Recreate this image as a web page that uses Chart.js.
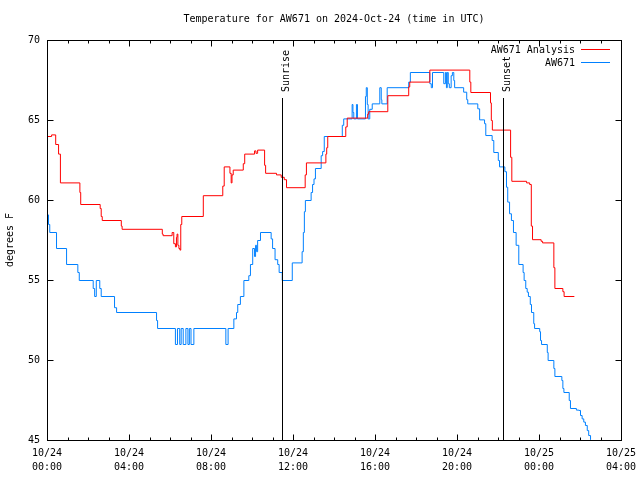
<!DOCTYPE html>
<html><head><meta charset="utf-8">
<script src="https://cdn.jsdelivr.net/npm/chart.js@4.4.1/dist/chart.umd.min.js"></script>
<style>html,body{margin:0;padding:0;background:#fff;}canvas{display:block;}</style>
</head><body>
<canvas id="c" width="640" height="480"></canvas>
<script>
const titleText = 'Temperature for AW671 on 2024-Oct-24 (time in UTC)';
const yTitleText = 'degrees F';
const seriesNames = ['AW671 Analysis', 'AW671'];
const seriesColors = ['#ff0000', '#0080ff'];
const xTickDates = ['10/24','10/24','10/24','10/24','10/24','10/24','10/25','10/25'];
const xTickTimes = ['00:00','04:00','08:00','12:00','16:00','20:00','00:00','04:00'];
const sunLabels = ['Sunrise', 'Sunset'];
const sunHours = [11.46, 22.22];

// hours since 10/24 00:00 UTC, value holds until next point
const analysisHours = [0,0.2,0.4,0.54,0.63,1.58,1.62,2.57,2.62,2.67,3.6,3.64,5.6,5.64,6.08,6.16,6.24,6.29,6.32,6.36,6.41,6.46,6.5,6.55,7.6,8.55,8.62,8.9,8.96,9.0,9.06,9.55,9.62,10.1,10.17,10.25,10.59,10.64,11.17,11.4,11.55,11.66,12.57,12.63,13.58,13.62,13.67,14.55,14.62,15.62,15.67,16.6,17.62,17.67,18.65,20.6,20.65,21.61,21.65,21.7,22.59,22.65,23.37,23.52,23.6,23.66,24.08,24.15,24.7,24.75,25.14,25.2,25.7];
const analysisTemps = [64.0,64.1,63.5,62.9,61.1,60.5,59.75,59.5,59.0,58.75,58.4,58.2,57.9,57.8,58.0,57.3,57.1,57.7,57.9,57.2,57.0,56.9,58.5,59.0,60.3,60.9,62.1,61.7,61.1,61.6,61.9,62.3,62.9,63.1,62.95,63.15,62.2,61.7,61.6,61.45,61.3,60.8,61.6,62.35,62.9,63.3,64.0,64.6,65.15,65.4,65.55,66.55,67.1,67.4,68.15,67.4,66.75,66.1,65.0,64.4,62.7,61.2,61.1,61.0,58.4,57.55,57.45,57.35,55.8,54.5,54.3,54.0,54.0];

const obsHours = [0,0.05,0.11,0.44,0.93,1.48,1.55,2.23,2.3,2.38,2.55,2.62,3.27,3.37,5.32,5.37,6.24,6.34,6.45,6.52,6.62,6.75,6.85,6.92,7.0,7.14,8.7,8.81,9.09,9.22,9.28,9.41,9.58,9.82,9.9,10.01,10.1,10.15,10.2,10.25,10.39,10.91,10.98,11.1,11.23,11.3,11.45,11.94,12.42,12.48,12.53,12.58,12.86,12.93,13.0,13.07,13.35,13.42,13.5,14.38,14.45,14.86,14.9,14.94,15.07,15.12,15.51,15.55,15.6,15.64,15.72,15.84,16.21,16.28,16.31,16.57,17.62,17.7,18.65,18.72,18.78,19.33,19.41,19.46,19.5,19.55,19.6,19.69,19.75,19.82,19.86,20.3,20.45,20.5,20.99,21.08,21.32,21.38,21.69,21.77,21.99,22.05,22.31,22.39,22.45,22.54,22.63,22.73,22.86,22.99,23.2,23.25,23.33,23.4,23.46,23.55,23.61,23.72,23.76,24.01,24.05,24.1,24.38,24.42,24.7,24.75,25.09,25.14,25.19,25.45,25.51,25.8,25.92,26.0,26.08,26.16,26.24,26.33,26.4,26.49];
const obsTemps = [59.1,58.5,58.0,57.0,56.0,55.5,55.0,54.5,54.0,55.0,54.5,54.0,53.3,53.0,52.5,52.0,51.0,52.0,51.0,52.0,51.0,52.0,51.0,52.0,51.0,52.0,51.0,52.0,52.6,53.0,53.5,54.0,55.0,55.3,56.0,57.0,56.5,57.2,56.8,57.5,58.0,57.6,57.0,56.3,56.0,55.5,55.0,56.1,56.8,58.0,59.3,60.0,60.5,61.0,61.35,62.0,62.8,63.06,64.0,64.7,65.1,66.0,65.5,65.1,66.0,65.1,66.5,67.05,66.0,65.1,65.7,66.04,67.05,66.3,66.04,67.05,67.4,68.0,67.3,67.05,68.0,67.3,68.0,67.05,68.0,67.3,67.05,67.8,68.0,67.5,67.05,66.77,66.3,66.04,65.73,65.04,64.8,64.06,63.75,63.0,62.5,62.1,61.8,60.83,59.9,59.17,58.75,58.0,57.2,56.0,55.5,55.0,54.5,54.27,54.0,53.5,53.0,52.3,52.0,51.8,51.25,51.0,50.5,50.0,49.5,49.0,48.75,48.25,48.0,47.5,47.0,46.9,46.88,46.56,46.35,46.15,45.94,45.62,45.31,45.04];

const toPoints = (hs, vs) => hs.map((h, i) => ({x: h, y: vs[i]}));

Chart.defaults.font.family = "'DejaVu Sans Mono', monospace";
Chart.defaults.font.size = 10;
Chart.defaults.color = '#000';

const FONT = "10px 'DejaVu Sans Mono', monospace";

const decor = {
  id: 'decor',
  beforeDatasetsDraw(chart) { chart.ctx.save(); chart.ctx.translate(0.5, 0.5); },
  afterDatasetsDraw(chart) {
    chart.ctx.restore();
    const {ctx, chartArea: a, scales: {x, y}} = chart;
    ctx.save();
    ctx.strokeStyle = '#000';
    ctx.lineWidth = 1;
    const L = Math.round(a.left) + 0.5, R = Math.round(a.right) + 0.5;
    const T = Math.round(a.top) + 0.5, B = Math.round(a.bottom) + 0.5;
    const seg = (x1, y1, x2, y2) => { ctx.beginPath(); ctx.moveTo(x1, y1); ctx.lineTo(x2, y2); ctx.stroke(); };
    // ticks
    for (let h = x.min; h <= x.max; h += 1) {
      const px = Math.round(x.getPixelForValue(h)) + 0.5;
      const len = (h % 4 === 0) ? 6 : 3;
      seg(px, B, px, B - len);
      seg(px, T, px, T + len);
    }
    for (let v = y.min; v <= y.max; v += 5) {
      const py = Math.round(y.getPixelForValue(v)) + 0.5;
      seg(L, py, L + 6, py);
      seg(R, py, R - 6, py);
    }
    // sunrise / sunset
    ctx.font = FONT;
    ctx.fillStyle = '#000';
    sunHours.forEach((h, i) => {
      const px = Math.round(x.getPixelForValue(h)) + 0.5;
      seg(px, 98, px, B);
      ctx.save();
      ctx.translate(px + 6, 92);
      ctx.rotate(-Math.PI / 2);
      ctx.textAlign = 'left';
      ctx.textBaseline = 'alphabetic';
      ctx.fillText(sunLabels[i], 0, 0);
      ctx.restore();
    });
    // border
    ctx.strokeRect(L, T, R - L, B - T);
    // title
    ctx.textAlign = 'center';
    ctx.textBaseline = 'middle';
    ctx.fillText(titleText, (a.left + a.right) / 2, 19);
    // y title
    ctx.save();
    ctx.translate(10, (a.top + a.bottom) / 2);
    ctx.rotate(-Math.PI / 2);
    ctx.fillText(yTitleText, 0, 0);
    ctx.restore();
    // legend
    ctx.textAlign = 'right';
    seriesNames.forEach((n, i) => {
      const ly = 50 + i * 13;
      ctx.fillStyle = '#000';
      ctx.fillText(n, 575, ly);
      ctx.strokeStyle = seriesColors[i];
      seg(581, ly - 0.5, 610, ly - 0.5);
    });
    ctx.restore();
  }
};

new Chart(document.getElementById('c'), {
  type: 'line',
  data: {
    datasets: [
      {label: seriesNames[0], data: toPoints(analysisHours, analysisTemps), borderColor: seriesColors[0], borderWidth: 1, pointRadius: 0, stepped: 'before', fill: false},
      {label: seriesNames[1], data: toPoints(obsHours, obsTemps), borderColor: seriesColors[1], borderWidth: 1, pointRadius: 0, stepped: 'before', fill: false}
    ]
  },
  options: {
    responsive: false,
    animation: false,
    devicePixelRatio: 1,
    layout: {padding: {left: 0, top: 40, right: 19, bottom: 0}},
    plugins: {legend: {display: false}, title: {display: false}, tooltip: {enabled: false}},
    scales: {
      x: {
        type: 'linear', min: 0, max: 28,
        grid: {display: false, drawTicks: false},
        border: {display: false},
        ticks: {stepSize: 4, autoSkip: false, maxRotation: 0, padding: 6,
          font: {lineHeight: 1.4},
          callback: (v) => { const i = Math.round(v / 4); return [xTickDates[i], xTickTimes[i]]; }},
        afterFit: (s) => { s.height = 40; s.paddingLeft = 0; s.paddingRight = 0; }
      },
      y: {
        min: 45, max: 70,
        grid: {display: false, drawTicks: false},
        border: {display: false},
        ticks: {stepSize: 5, padding: 7},
        afterFit: (s) => { s.width = 47; }
      }
    }
  },
  plugins: [decor]
});
</script>
</body></html>
